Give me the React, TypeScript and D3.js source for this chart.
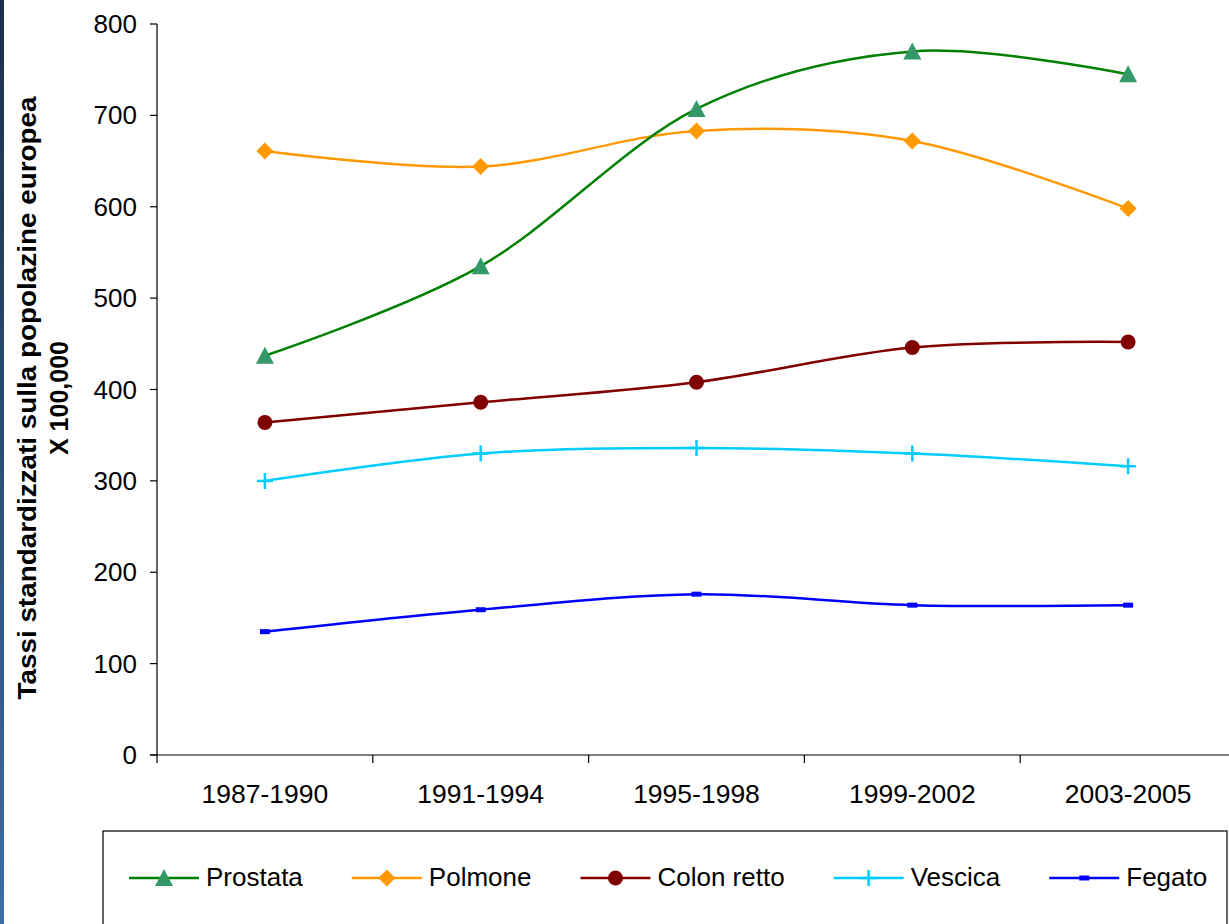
import React, { useEffect, useRef } from "react";
import * as d3 from "d3";

const categories = ["1987-1990", "1991-1994", "1995-1998", "1999-2002", "2003-2005"];
const prostata = [437, 535, 707, 770, 745];
const polmone = [661, 644, 683, 672, 598];
const colonRetto = [364, 386, 408, 446, 452];
const vescica = [300, 330, 336, 330, 316];
const fegato = [135, 159, 176, 164, 164];
const yTicks = [0, 100, 200, 300, 400, 500, 600, 700, 800];
const seriesNames = ["Prostata", "Polmone", "Colon retto", "Vescica", "Fegato"];
const yTitle1 = "Tassi standardizzati sulla popolazine europea";
const yTitle2 = "X 100,000";

const W = 1229;
const H = 924;
const FONT = "'Liberation Sans', Arial, sans-serif";

export default function App() {
  const ref = useRef<SVGSVGElement | null>(null);

  useEffect(() => {
    const svg = d3.select(ref.current);
    svg.selectAll("*").remove();

    const left = 157;
    const right = 157 + 5 * 215.8;
    const top = 24;
    const bottom = 755;

    const x = d3.scaleBand<string>().domain(categories).range([left, right]);
    const y = d3.scaleLinear().domain([0, 800]).range([bottom, top]);

    const defs = svg.append("defs");
    const grad = defs.append("linearGradient").attr("id", "sidebar").attr("x1", 0).attr("y1", 0).attr("x2", 0).attr("y2", 1);
    grad.append("stop").attr("offset", "0%").attr("stop-color", "#1c2f48");
    grad.append("stop").attr("offset", "100%").attr("stop-color", "#3a6ea5");

    svg.append("rect").attr("x", 0).attr("y", 0).attr("width", W).attr("height", H).attr("fill", "#ffffff");
    svg.append("rect").attr("x", 0).attr("y", 0).attr("width", 4).attr("height", H).attr("fill", "url(#sidebar)");

    // Y axis
    const yAxis = svg.append("g");
    yAxis.append("line").attr("x1", left).attr("x2", left).attr("y1", top).attr("y2", bottom + 8)
      .attr("stroke", "#000").attr("stroke-width", 1.2);
    yTicks.forEach((t) => {
      yAxis.append("line").attr("x1", left - 7).attr("x2", left).attr("y1", y(t)).attr("y2", y(t))
        .attr("stroke", "#000").attr("stroke-width", 1.2);
      yAxis.append("text").attr("x", 137).attr("y", y(t)).attr("dy", "0.35em")
        .attr("text-anchor", "end").attr("font-family", FONT).attr("font-size", 26).attr("fill", "#000")
        .text(String(t));
    });

    // X axis
    const xAxis = svg.append("g");
    xAxis.append("line").attr("x1", left - 7).attr("x2", right).attr("y1", bottom).attr("y2", bottom)
      .attr("stroke", "#000").attr("stroke-width", 1.2);
    categories.forEach((c) => {
      const bx = x(c)! + x.bandwidth();
      xAxis.append("line").attr("x1", bx).attr("x2", bx).attr("y1", bottom).attr("y2", bottom + 8)
        .attr("stroke", "#000").attr("stroke-width", 1.2);
      xAxis.append("text").attr("x", x(c)! + x.bandwidth() / 2).attr("y", 803)
        .attr("text-anchor", "middle").attr("font-family", FONT).attr("font-size", 26.5).attr("fill", "#000")
        .text(c);
    });

    // Axis title
    svg.append("text").attr("transform", "translate(36,398) rotate(-90)")
      .attr("text-anchor", "middle").attr("font-family", FONT).attr("font-weight", "bold")
      .attr("font-size", 25.5).attr("fill", "#000")
      .attr("textLength", 603).attr("lengthAdjust", "spacingAndGlyphs").text(yTitle1);
    svg.append("text").attr("transform", "translate(68,398) rotate(-90)")
      .attr("text-anchor", "middle").attr("font-family", FONT).attr("font-weight", "bold")
      .attr("font-size", 25).attr("fill", "#000").text(yTitle2);

    const seriesData = [prostata, polmone, colonRetto, vescica, fegato];
    const lineColors = ["#008000", "#FF9900", "#800000", "#00CCFF", "#0000FF"];
    const markerColors = ["#339966", "#FF9900", "#800000", "#00CCFF", "#0000FF"];

    const drawMarker = (g: any, i: number, cx: number, cy: number) => {
      const col = markerColors[i];
      if (i === 0) {
        g.append("path").attr("d", `M${cx},${cy - 9} L${cx + 9},${cy + 8} L${cx - 9},${cy + 8} Z`).attr("fill", col);
      } else if (i === 1) {
        g.append("path").attr("d", `M${cx},${cy - 8.5} L${cx + 8.5},${cy} L${cx},${cy + 8.5} L${cx - 8.5},${cy} Z`).attr("fill", col);
      } else if (i === 2) {
        g.append("circle").attr("cx", cx).attr("cy", cy).attr("r", 7.5).attr("fill", col);
      } else if (i === 3) {
        g.append("path").attr("d", `M${cx - 8},${cy} L${cx + 8},${cy} M${cx},${cy - 8} L${cx},${cy + 8}`)
          .attr("stroke", col).attr("stroke-width", 2.5).attr("fill", "none");
      } else {
        g.append("rect").attr("x", cx - 5).attr("y", cy - 2.5).attr("width", 10).attr("height", 5).attr("fill", col);
      }
    };

    const lineGen = d3.line<number>()
      .x((_, j) => x(categories[j])! + x.bandwidth() / 2)
      .y((v) => y(v))
      .curve(d3.curveCardinal.tension(0));

    const plot = svg.append("g");
    [4, 3, 2, 1, 0].forEach((i) => {
      plot.append("path").attr("d", lineGen(seriesData[i])).attr("fill", "none")
        .attr("stroke", lineColors[i]).attr("stroke-width", 2.5);
      seriesData[i].forEach((v, j) => {
        drawMarker(plot, i, x(categories[j])! + x.bandwidth() / 2, y(v));
      });
    });

    // Legend
    svg.append("rect").attr("x", 103).attr("y", 831).attr("width", 1124).attr("height", 120)
      .attr("fill", "#fff").attr("stroke", "#000").attr("stroke-width", 1.2);
    const lg = svg.append("g");
    let cursor = 129;
    const ly = 878;
    seriesNames.forEach((name, i) => {
      lg.append("line").attr("x1", cursor).attr("x2", cursor + 70).attr("y1", ly).attr("y2", ly)
        .attr("stroke", lineColors[i]).attr("stroke-width", 2.5);
      drawMarker(lg, i, cursor + 35, ly);
      const t = lg.append("text").attr("x", cursor + 77).attr("y", 886)
        .attr("font-family", FONT).attr("font-size", 26).attr("fill", "#000").text(name);
      const w = (t.node() as SVGTextElement).getComputedTextLength();
      cursor = cursor + 77 + w + 49;
    });
  }, []);

  return (
    <svg ref={ref} width={W} height={H} style={{ position: "absolute", left: 0, top: 0, display: "block" }} />
  );
}
